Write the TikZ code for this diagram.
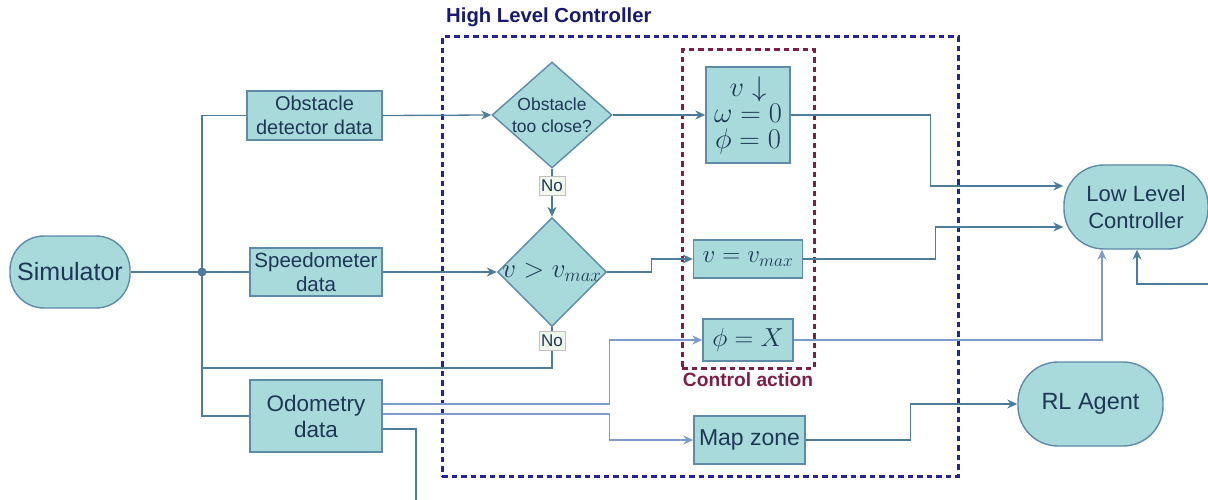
\RequirePackage{fix-cm}
\documentclass[tikz,border=0pt]{standalone}
\usepackage[no-math]{fontspec}
\setmainfont{Liberation Sans}
\usepackage{xcolor}
\usepackage{tikz}
\usetikzlibrary{shapes.geometric,arrows.meta}

\definecolor{boxfill}{RGB}{168,218,220}
\definecolor{boxline}{RGB}{94,139,168}
\definecolor{wirec}{RGB}{77,124,154}
\definecolor{wirelc}{RGB}{125,156,204}
\definecolor{txt}{RGB}{29,55,84}
\definecolor{hlcblue}{RGB}{35,35,160}
\definecolor{hlctext}{RGB}{25,25,110}
\definecolor{camaroon}{RGB}{125,30,70}
\definecolor{nofill}{RGB}{240,248,238}

\begin{document}
\begin{tikzpicture}[x=1pt,y=-1pt,
  block/.style={draw=boxline, fill=boxfill, text=txt, line width=1.4pt, inner sep=0pt, align=center},
  term/.style={block, rounded corners=34pt},
  decision/.style={diamond, draw=boxline, fill=boxfill, line width=1.4pt, inner sep=0pt},
  wire/.style={draw=wirec, line width=1.3pt},
  wirel/.style={draw=wirelc, line width=1.3pt},
  tip/.style={-{Stealth[length=10pt,width=9pt]}},
  nolbl/.style={draw=black!25, fill=nofill, text=txt, inner xsep=2pt, inner ysep=3.5pt, font=\fontsize{17}{19}\selectfont},
  dashbox/.style={line width=3pt, dash pattern=on 5.5pt off 4pt, minimum width=#1}]
\useasboundingbox (0,0) rectangle (1208,500);

% dashed groups
\node[dashbox=516pt, draw=hlcblue, minimum height=439pt] (hlc) at (700,256.5) {};
\node[anchor=south west, inner sep=0pt, text=hlctext, font=\bfseries\fontsize{20.3}{22}\selectfont] at (446,27) {High Level Controller};
\node[dashbox=132pt, draw=camaroon, minimum height=318pt] (ca) at (748,209) {};
\node[text=camaroon, font=\bfseries\fontsize{19.2}{21}\selectfont] (calbl) at (748,380) {Control action};

% inputs
\node[term, minimum width=120pt, minimum height=72pt, font=\fontsize{25}{28}\selectfont] (sim) at (70,272) {Simulator};
\node[block, minimum width=135pt, minimum height=49pt, font=\fontsize{20}{24}\selectfont] (obst) at (314.5,115.5) {Obstacle\\detector data};
\node[block, minimum width=132pt, minimum height=48pt, font=\fontsize{20.5}{24}\selectfont] (speed) at (316,272) {Speedometer\\data};
\node[block, minimum width=132pt, minimum height=72pt, font=\fontsize{22.5}{26}\selectfont] (odom) at (316,416) {Odometry\\data};
\coordinate (bus) at (202,272);
\coordinate (ret) at (202,368);
\coordinate (down) at (416,500);

% decisions
\node[decision, minimum width=120pt, minimum height=106pt] (dobst) at (552,115) {};
\node[text=txt, align=center, font=\fontsize{17.5}{22}\selectfont] at (dobst) {Obstacle\\too close?};
\node[decision, minimum width=109pt, minimum height=109pt] (dspeed) at (552,272) {};
\node[text=txt, font=\fontsize{27}{30}\selectfont] at (dspeed) {$v>v_{max}$};
\node[nolbl] (no1) at (552,186) {No};
\node[nolbl] (no2) at (552,341) {No};

% control actions
\node[block, minimum width=84pt, minimum height=96pt, font=\fontsize{28.5}{26}\selectfont] (stop) at (748,115) {$v\downarrow$\\$\omega=0$\\$\phi=0$};
\node[block, minimum width=109pt, minimum height=38pt, font=\fontsize{25}{28}\selectfont] (vmax) at (748,259) {$v=v_{max}$};
\node[block, minimum width=90pt, minimum height=42pt, font=\fontsize{26}{28}\selectfont] (phi) at (748,340) {$\phi=X$};
\node[block, minimum width=111pt, minimum height=48pt, font=\fontsize{23}{26}\selectfont] (mapz) at (749.5,440) {Map zone};

% outputs
\node[term, minimum width=144pt, minimum height=84pt, rounded corners=40pt, font=\fontsize{22}{27}\selectfont] (llc) at (1136,207) {Low Level\\Controller};
\node[term, minimum width=145pt, minimum height=84pt, rounded corners=40pt, font=\fontsize{23.5}{27}\selectfont] (rl) at (1090.5,404) {RL Agent};
\coordinate (ext) at (1210,284);

% connectors
\draw[wire] (sim.east) -- (bus);
\fill[wirec] (bus) circle (4.5pt);
\draw[wire] (bus) |- (obst.west);
\draw[wire] (bus) |- (speed.west);
\draw[wire] (bus) |- (odom.west);
\draw[wire, tip] (obst.east) -- (dobst.west);
\draw[wire, tip] (speed.east) -- (dspeed.west);
\draw[wire] (dobst.south) -- (no1);
\draw[wire, tip] (no1) -- (dspeed.north);
\draw[wire] (dspeed.south) -- (no2);
\draw[wire] (no2) |- (ret);
\draw[wire, tip] (dobst.east) -- (stop.west);
\draw[wire, tip] (dspeed.east) -- ++(44,0) |- (vmax.west);
\draw[wirel, tip] ([yshift=12pt]odom.east) -- ++(227,0) |- (phi.west);
\draw[wirel, tip] ([yshift=2pt]odom.east) -- ++(227,0) |- (mapz.west);
\draw[wire] ([yshift=-13pt]odom.east) -| (down);
\draw[wire, tip] (stop.east) -- ++(140,0) |- ([yshift=21pt]llc.west);
\draw[wire, tip] (vmax.east) -- ++(132,0) |- ([yshift=-20pt]llc.west);
\draw[wirel, tip] (phi.east) -| ([xshift=-34pt]llc.south);
\draw[wire, tip] (ext) -| ([xshift=1pt]llc.south);
\draw[wire, tip] (mapz.east) -- ++(105,0) |- (rl.west);
\end{tikzpicture}
\end{document}
